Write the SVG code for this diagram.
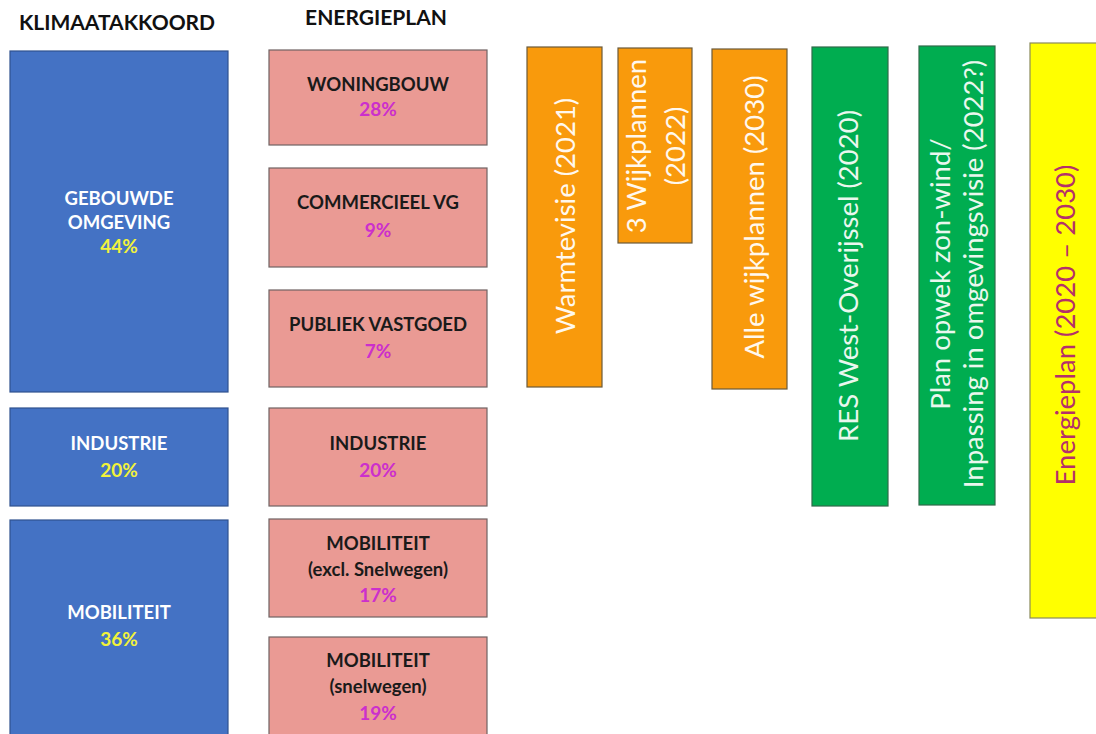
<svg xmlns="http://www.w3.org/2000/svg" width="1096" height="734" viewBox="0 0 1096 734">
<style>
.bg{fill:#ffffff}
.blue{fill:#4472C4;stroke:#2F528F;stroke-width:1.2}
.pink{fill:#EA9A94;stroke:#6f6363;stroke-width:1.2}
.orange{fill:#F99A0C;stroke:#6b5a3a;stroke-width:1.2}
.green{fill:#00AD50;stroke:#2f6b4a;stroke-width:1.2}
.yellow{fill:#FFFF00;stroke:#8a8a5a;stroke-width:1.2}
.hdr{font-family:Lato,"Liberation Sans",sans-serif;font-weight:bold;font-size:21px;fill:#111;text-anchor:middle}
.lw{font-family:Lato,"Liberation Sans",sans-serif;font-weight:bold;font-size:18.5px;fill:#ffffff;text-anchor:middle}
.lb{font-family:Lato,"Liberation Sans",sans-serif;font-weight:bold;font-size:18.5px;fill:#1a1a1a;text-anchor:middle}
.py{font-family:Lato,"Liberation Sans",sans-serif;font-weight:bold;font-size:19px;fill:#F2F23A;text-anchor:middle}
.pm{font-family:Lato,"Liberation Sans",sans-serif;font-weight:bold;font-size:19px;fill:#CC2FCC;text-anchor:middle}
.rt{font-family:Lato,"Liberation Sans",sans-serif;font-size:27.5px;fill:#FFF8EE;text-anchor:middle}
.rg{font-family:Lato,"Liberation Sans",sans-serif;font-size:27.5px;fill:#EAF7EE;text-anchor:middle}
.rm{font-family:Lato,"Liberation Sans",sans-serif;font-size:27.5px;fill:#B4306A;text-anchor:middle}
</style>
<rect class="bg" x="0" y="0" width="1096" height="734"/>
<g id="headers">
<text class="hdr" x="117" y="30">KLIMAATAKKOORD</text>
<text class="hdr" x="376" y="25">ENERGIEPLAN</text>
</g>
<g id="ka-gebouwde">
<rect class="blue" x="10" y="51" width="218" height="341"/>
<text class="lw" x="119" y="205">GEBOUWDE</text>
<text class="lw" x="119" y="229">OMGEVING</text>
<text class="py" x="119" y="253">44%</text>
</g>
<g id="ka-industrie">
<rect class="blue" x="10" y="408" width="218" height="98"/>
<text class="lw" x="119" y="450">INDUSTRIE</text>
<text class="py" x="119" y="477">20%</text>
</g>
<g id="ka-mobiliteit">
<rect class="blue" x="10" y="520" width="218" height="220"/>
<text class="lw" x="119" y="619">MOBILITEIT</text>
<text class="py" x="119" y="646">36%</text>
</g>
<g id="ep-woningbouw">
<rect class="pink" x="269" y="50" width="218" height="95"/>
<text class="lb" x="378" y="91">WONINGBOUW</text>
<text class="pm" x="378" y="116">28%</text>
</g>
<g id="ep-commercieel">
<rect class="pink" x="269" y="168" width="218" height="99"/>
<text class="lb" x="378" y="209">COMMERCIEEL VG</text>
<text class="pm" x="378" y="237">9%</text>
</g>
<g id="ep-publiek">
<rect class="pink" x="269" y="290" width="218" height="97"/>
<text class="lb" x="378" y="331">PUBLIEK VASTGOED</text>
<text class="pm" x="378" y="358">7%</text>
</g>
<g id="ep-industrie">
<rect class="pink" x="269" y="408" width="218" height="98"/>
<text class="lb" x="378" y="450">INDUSTRIE</text>
<text class="pm" x="378" y="477">20%</text>
</g>
<g id="ep-mobiliteit-excl">
<rect class="pink" x="269" y="519" width="218" height="98"/>
<text class="lb" x="378" y="550">MOBILITEIT</text>
<text class="lb" x="378" y="576">(excl. Snelwegen)</text>
<text class="pm" x="378" y="602">17%</text>
</g>
<g id="ep-mobiliteit-snelwegen">
<rect class="pink" x="269" y="637" width="218" height="103"/>
<text class="lb" x="378" y="667">MOBILITEIT</text>
<text class="lb" x="378" y="693">(snelwegen)</text>
<text class="pm" x="378" y="720">19%</text>
</g>
<g id="warmtevisie">
<rect class="orange" x="527" y="47" width="75" height="340"/>
<text class="rt" transform="translate(575 216) rotate(-90)">Warmtevisie (2021)</text>
</g>
<g id="wijkplannen-3">
<rect class="orange" x="618" y="48" width="74" height="195"/>
<text class="rt" transform="translate(646 146) rotate(-90)">3 Wijkplannen</text>
<text class="rt" transform="translate(685 146) rotate(-90)">(2022)</text>
</g>
<g id="alle-wijkplannen">
<rect class="orange" x="712" y="49" width="75" height="340"/>
<text class="rt" transform="translate(764 217) rotate(-90)">Alle wijkplannen (2030)</text>
</g>
<g id="res">
<rect class="green" x="812" y="47" width="76" height="459"/>
<text class="rg" transform="translate(858 276) rotate(-90)">RES West-Overijssel (2020)</text>
</g>
<g id="plan-opwek">
<rect class="green" x="919" y="46" width="76" height="459"/>
<text class="rg" transform="translate(950 274) rotate(-90)">Plan opwek zon-wind/</text>
<text class="rg" transform="translate(983 274) rotate(-90)">Inpassing in omgevingsvisie (2022?)</text>
</g>
<g id="energieplan">
<rect class="yellow" x="1030" y="43" width="80" height="575"/>
<text class="rm" transform="translate(1075 325) rotate(-90)">Energieplan (2020 – 2030)</text>
</g>
<g id="connectors"></g>
</svg>
